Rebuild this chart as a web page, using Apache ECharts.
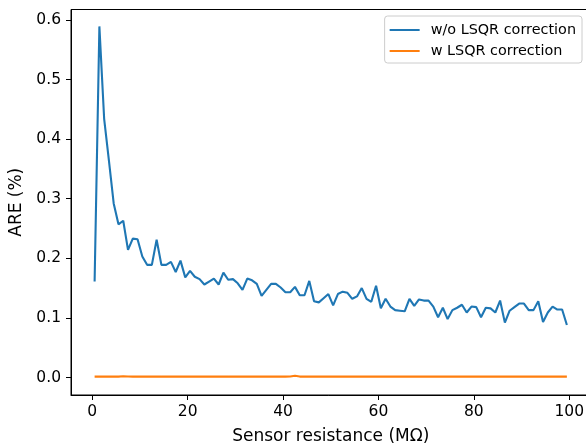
<!DOCTYPE html>
<html>
<head>
<meta charset="utf-8">
<script src="https://cdn.jsdelivr.net/npm/echarts@6/dist/echarts.min.js"></script>
<style>
html,body{margin:0;padding:0;background:#fff;}
#c{width:586px;height:447px;}
</style>
</head>
<body>
<div id="c"></div>
<script>
const resistance = [0.5,1.5,2.5,3.5,4.5,5.5,6.5,7.5,8.5,9.5,
10.5,11.5,12.5,13.5,14.5,15.5,16.5,17.5,18.5,19.5,
20.5,21.5,22.5,23.5,24.5,25.5,26.5,27.5,28.5,29.5,
30.5,31.5,32.5,33.5,34.5,35.5,36.5,37.5,38.5,39.5,
40.5,41.5,42.5,43.5,44.5,45.5,46.5,47.5,48.5,49.5,
50.5,51.5,52.5,53.5,54.5,55.5,56.5,57.5,58.5,59.5,
60.5,61.5,62.5,63.5,64.5,65.5,66.5,67.5,68.5,69.5,
70.5,71.5,72.5,73.5,74.5,75.5,76.5,77.5,78.5,79.5,
80.5,81.5,82.5,83.5,84.5,85.5,86.5,87.5,88.5,89.5,
90.5,91.5,92.5,93.5,94.5,95.5,96.5,97.5,98.5,99.5];

const areWithout = [0.161,0.589,0.434,0.364,0.292,0.257,0.263,0.214,0.233,0.232,
0.203,0.189,0.189,0.231,0.189,0.189,0.194,0.177,0.196,0.168,
0.179,0.169,0.165,0.156,0.161,0.166,0.156,0.176,0.164,0.165,
0.158,0.147,0.166,0.163,0.157,0.137,0.147,0.157,0.157,0.151,
0.143,0.143,0.152,0.138,0.138,0.162,0.128,0.126,0.133,0.140,
0.121,0.140,0.144,0.142,0.132,0.136,0.150,0.132,0.127,0.154,
0.116,0.132,0.119,0.113,0.112,0.111,0.132,0.120,0.131,0.129,
0.129,0.119,0.101,0.117,0.098,0.113,0.117,0.122,0.109,0.119,
0.118,0.101,0.117,0.116,0.109,0.129,0.092,0.112,0.118,0.124,
0.124,0.113,0.113,0.128,0.093,0.109,0.119,0.114,0.114,0.088];

const areWith = [0.0015,0.0016,0.0015,0.0016,0.0015,0.0015,0.0020,0.0016,0.0015,0.0015,
0.0014,0.0015,0.0014,0.0016,0.0015,0.0014,0.0015,0.0014,0.0014,0.0015,
0.0014,0.0014,0.0014,0.0015,0.0014,0.0014,0.0014,0.0016,0.0015,0.0014,
0.0014,0.0014,0.0014,0.0014,0.0015,0.0014,0.0014,0.0014,0.0014,0.0014,
0.0014,0.0016,0.0030,0.0015,0.0014,0.0014,0.0014,0.0014,0.0014,0.0014,
0.0014,0.0014,0.0014,0.0014,0.0014,0.0014,0.0014,0.0014,0.0014,0.0015,
0.0014,0.0014,0.0014,0.0014,0.0014,0.0014,0.0014,0.0014,0.0014,0.0014,
0.0014,0.0014,0.0014,0.0014,0.0014,0.0014,0.0014,0.0014,0.0014,0.0014,
0.0014,0.0014,0.0014,0.0014,0.0014,0.0014,0.0014,0.0014,0.0014,0.0014,
0.0014,0.0014,0.0014,0.0014,0.0014,0.0014,0.0014,0.0014,0.0014,0.0014];

const xTicks = [0,20,40,60,80,100];
const yTicks = [0,0.1,0.2,0.3,0.4,0.5,0.6];
const seriesNames = ['w/o LSQR correction','w LSQR correction'];

const font = 'DejaVu Sans';
const chart = echarts.init(document.getElementById('c'), null, {renderer:'canvas'});
const pair = (xs, ys) => xs.map((x,i)=>[x, ys[i]]);

chart.setOption({
  animation:false,
  backgroundColor:'#fff',
  grid:{left:71, top:9.5, width:519.5, height:385.5, show:true, borderColor:'#000', borderWidth:1,
        backgroundColor:'transparent', outerBoundsMode:'none', containLabel:false},
  legend:{
    orient:'vertical', right:4, top:16,
    padding:[6,6,4,5],
    backgroundColor:'#fff', borderColor:'#cccccc', borderWidth:1, borderRadius:3,
    itemWidth:30, itemHeight:2, itemGap:5, icon:'rect',
    textStyle:{fontFamily:font, fontSize:14.4, color:'#000', lineHeight:16, padding:[0,0,0,6]},
    data:seriesNames
  },
  xAxis:{
    type:'value', min:-4.45, max:104.45,
    name:'Sensor resistance (MΩ)', nameLocation:'middle', nameGap:33,
    nameTextStyle:{fontFamily:font, fontSize:17, color:'#000'},
    axisLine:{show:true, onZero:false, lineStyle:{color:'#000', width:1}},
    axisTick:{show:true, length:5, lineStyle:{color:'#000', width:1}, customValues:xTicks},
    axisLabel:{fontFamily:font, fontSize:15.5, color:'#000', margin:9, customValues:xTicks, formatter:v=>String(v)},
    splitLine:{show:false}
  },
  yAxis:{
    type:'value', min:-0.0294, max:0.6174,
    name:'ARE (%)', nameLocation:'middle', nameGap:45,
    nameTextStyle:{fontFamily:font, fontSize:17, color:'#000'},
    axisLine:{show:true, onZero:false, lineStyle:{color:'#000', width:1}},
    axisTick:{show:true, length:5, lineStyle:{color:'#000', width:1}, customValues:yTicks},
    axisLabel:{fontFamily:font, fontSize:15.5, color:'#000', margin:10, customValues:yTicks, formatter:v=>v.toFixed(1)},
    splitLine:{show:false}
  },
  series:[
    {name:seriesNames[0], type:'line', data:pair(resistance, areWithout), showSymbol:false, symbol:'none',
     color:'#1f77b4', lineStyle:{width:2.1, color:'#1f77b4'}, z:3},
    {name:seriesNames[1], type:'line', data:pair(resistance, areWith), showSymbol:false, symbol:'none',
     color:'#ff7f0e', lineStyle:{width:2.1, color:'#ff7f0e'}, z:4}
  ]
});
</script>
</body>
</html>
